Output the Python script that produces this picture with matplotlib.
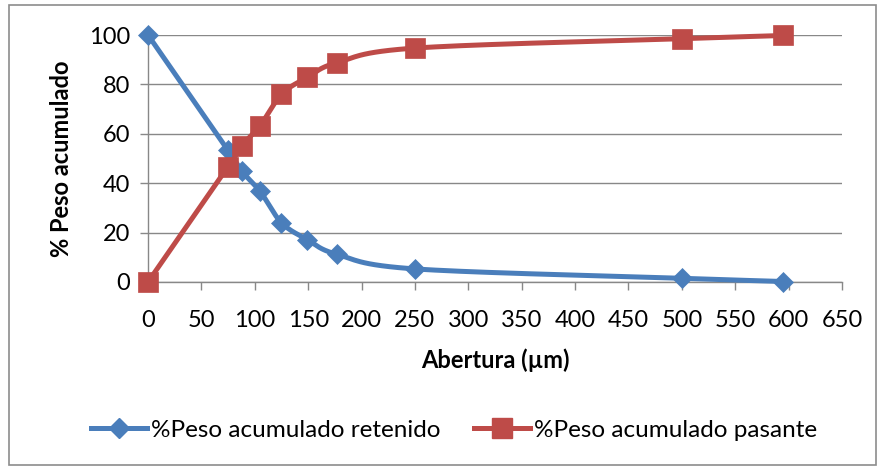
import numpy as np
import matplotlib
matplotlib.use("Agg")
import matplotlib.pyplot as plt
from matplotlib.patches import Rectangle
from matplotlib.lines import Line2D

plt.rcParams['font.family'] = ['Lato', 'DejaVu Sans']

abertura = [0, 75, 88, 105, 125, 149, 177, 250, 500, 595]
retenido = [100, 53.3, 44.8, 36.7, 24.0, 17.2, 11.2, 5.3, 1.5, 0.2]
pasante = [0, 46.7, 55.2, 63.3, 76.0, 82.8, 88.8, 94.7, 98.5, 99.8]

x_ticks = list(range(0, 651, 50))
y_ticks = list(range(0, 101, 20))

BLUE = '#4A7EBB'
RED = '#BE4B48'
GRID = '#888888'


def smooth(xs, ys, n=30):
    xs = np.asarray(xs, float)
    ys = np.asarray(ys, float)
    px = np.concatenate([[xs[0]], xs, [xs[-1]]])
    py = np.concatenate([[ys[0]], ys, [ys[-1]]])
    ox, oy = [], []
    t = np.linspace(0, 1, n)
    for i in range(1, len(px) - 2):
        p0 = np.array([px[i], py[i]])
        p3 = np.array([px[i + 1], py[i + 1]])
        c1 = p0 + (np.array([px[i + 1], py[i + 1]]) - np.array([px[i - 1], py[i - 1]])) / 6
        c2 = p3 - (np.array([px[i + 2], py[i + 2]]) - np.array([px[i], py[i]])) / 6
        b = ((1 - t) ** 3)[:, None] * p0 + (3 * (1 - t) ** 2 * t)[:, None] * c1 + \
            (3 * (1 - t) * t ** 2)[:, None] * c2 + (t ** 3)[:, None] * p3
        ox.extend(b[:, 0]); oy.extend(b[:, 1])
    return ox, oy


W, H = 882, 470
fig = plt.figure(figsize=(W / 100, H / 100), dpi=100)
ax = fig.add_axes([148 / W, 1 - 282 / H, (842 - 148) / W, (282 - 35) / H])

lw = 3.6
sx, sy = smooth(abertura, retenido)
ax.plot(sx, sy, color=BLUE, lw=lw, solid_capstyle='round', zorder=3, clip_on=False)
ax.plot(abertura, retenido, ls='none', marker='D', ms=10.5, color=BLUE,
        mec=BLUE, mew=0.5, zorder=4, clip_on=False)
sx, sy = smooth(abertura, pasante)
ax.plot(sx, sy, color=RED, lw=lw, solid_capstyle='round', zorder=3, clip_on=False)
ax.plot(abertura, pasante, ls='none', marker='s', ms=14, color=RED,
        mec=RED, mew=0.5, zorder=4, clip_on=False)

ax.set_xlim(0, 650)
ax.set_ylim(0, 100)
ax.set_xticks(x_ticks)
ax.set_yticks(y_ticks)
ax.grid(axis='y', color=GRID, lw=1.0)
ax.set_axisbelow(True)
for s in ['top', 'right']:
    ax.spines[s].set_visible(False)
for s in ['left', 'bottom']:
    ax.spines[s].set_color(GRID)
    ax.spines[s].set_linewidth(1.0)
ax.tick_params(axis='both', direction='out', length=6, width=1.0, color=GRID,
               labelsize=17, pad=7)
ax.tick_params(axis='x', pad=14)

ax.set_xlabel('Abertura (µm)', fontsize=17, fontweight='bold', labelpad=13)
ax.set_ylabel('% Peso acumulado', fontsize=17, fontweight='bold', labelpad=11)

# legend
h1 = Line2D([], [], color=BLUE, lw=lw, marker='D', ms=10.5, mec=BLUE)
h2 = Line2D([], [], color=RED, lw=lw, marker='s', ms=14, mec=RED)
fig.legend([h1, h2], ['%Peso acumulado retenido', '%Peso acumulado pasante'],
           loc='center', bbox_to_anchor=(454 / W, 1 - 430 / H), ncol=2,
           frameon=False, fontsize=17.5, handlelength=2.3, handletextpad=0.15,
           columnspacing=1.4)

fig.patches.append(Rectangle((9 / W, 5 / H), (876 - 9) / W, (465 - 5) / H,
                             transform=fig.transFigure, fill=False,
                             edgecolor='#8C8C8C', lw=1.2))

fig.savefig('out.png', dpi=100)
